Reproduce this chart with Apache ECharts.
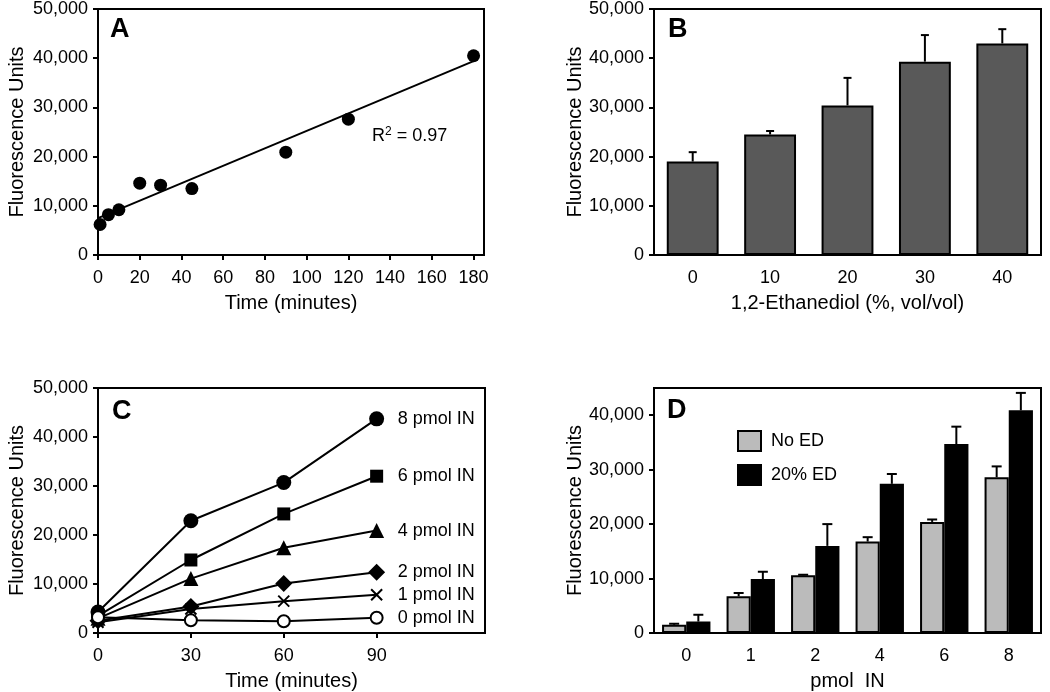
<!DOCTYPE html>
<html>
<head>
<meta charset="utf-8">
<script src="https://cdn.jsdelivr.net/npm/echarts@6/dist/echarts.min.js"></script>
<style>
html,body{margin:0;padding:0;background:#fff;}
#main{width:1050px;height:692px;}
</style>
</head>
<body>
<div id="main"></div>
<script>
// ---- Panel A data ----
const timeA = [1, 5, 10, 20, 30, 45, 90, 120, 180];
const fluorA = [6200, 8200, 9200, 14600, 14200, 13500, 20900, 27600, 40500];
const fitX = [0, 180];
const fitY = [7500, 39400];
const ticksA = [0, 20, 40, 60, 80, 100, 120, 140, 160, 180];

// ---- Panel B data ----
const edCats = ['0', '10', '20', '30', '40'];
const edMeans = [19000, 24500, 30400, 39300, 43000];
const edSD = [1900, 700, 5600, 5400, 2900];

// ---- Panel C data ----
const timeC = [0, 30, 60, 90];
const in8 = [4300, 22900, 30700, 43700];
const in6 = [3500, 14900, 24300, 32000];
const in4 = [3000, 11100, 17400, 20900];
const in2 = [2500, 5400, 10100, 12400];
const in1 = [2200, 4900, 6500, 7800];
const in0 = [3200, 2600, 2400, 3100];

// ---- Panel D data ----
const pmolCats = ['0', '1', '2', '4', '6', '8'];
const noED = [1500, 6750, 10600, 16800, 20400, 28600];
const noEDsd = [200, 600, 100, 800, 450, 2000];
const ed20 = [2100, 9900, 16000, 27400, 34700, 40900];
const ed20sd = [1250, 1350, 4000, 1800, 3200, 3200];

const yTicks50 = [0, 10000, 20000, 30000, 40000, 50000];
const yTicks45 = [0, 10000, 20000, 30000, 40000];

const FONT = 'Liberation Sans';
const fmt = v => Number(v).toLocaleString('en-US');

function yAxis(gi, max, ticks, gap) {
  return {
    type: 'value', gridIndex: gi, min: 0, max: max, interval: 10000,
    name: 'Fluorescence Units', nameLocation: 'middle', nameGap: gap,
    nameTextStyle: { fontFamily: FONT, fontSize: 20, color: '#000' },
    axisLine: { show: true, lineStyle: { color: '#000', width: 2 } },
    axisTick: { show: true, inside: false, length: 5, lineStyle: { color: '#000', width: 2 }, customValues: ticks },
    axisLabel: { fontFamily: FONT, fontSize: 18, color: '#000', margin: 10, formatter: fmt, customValues: ticks },
    splitLine: { show: false }
  };
}

function errRender(offsetFrac, cap) {
  return function (params, api) {
    const x = api.value(0), v = api.value(1), top = api.value(2);
    const p0 = api.coord([x, v]);
    const p1 = api.coord([x, top]);
    const w = api.size([1, 0])[0];
    const cx = p0[0] + offsetFrac * w;
    return {
      type: 'group',
      children: [
        { type: 'line', shape: { x1: cx, y1: p0[1], x2: cx, y2: p1[1] }, style: { stroke: '#000', lineWidth: 2 } },
        { type: 'line', shape: { x1: cx - cap, y1: p1[1], x2: cx + cap, y2: p1[1] }, style: { stroke: '#000', lineWidth: 2 } }
      ]
    };
  };
}

const gridBase = { show: true, borderColor: '#000', borderWidth: 2, containLabel: false };

const cSeriesDefs = [
  { name: '8 pmol IN', data: in8, symbol: 'circle', size: 15, fill: '#000' },
  { name: '6 pmol IN', data: in6, symbol: 'rect', size: 13, fill: '#000' },
  { name: '4 pmol IN', data: in4, symbol: 'triangle', size: 15, fill: '#000' },
  { name: '2 pmol IN', data: in2, symbol: 'diamond', size: 17, fill: '#000' },
  { name: '1 pmol IN', data: in1, symbol: 'path://M0,0 L10,10 M10,0 L0,10', size: 11, fill: 'none' },
  { name: '0 pmol IN', data: in0, symbol: 'circle', size: 12, fill: '#fff' }
];

const cSeries = cSeriesDefs.map(d => ({
  type: 'line', name: d.name, xAxisIndex: 2, yAxisIndex: 2,
  data: timeC.map((t, i) => [t, d.data[i]]),
  symbol: d.symbol, symbolSize: d.size, showAllSymbol: true,
  lineStyle: { color: '#000', width: 2 },
  itemStyle: { color: d.fill, borderColor: '#000', borderWidth: d.fill === '#000' ? 0 : 2, opacity: 1 },
  emphasis: { disabled: true },
  endLabel: { show: true, formatter: '{a}', distance: 21, fontFamily: FONT, fontSize: 18, color: '#000' },
  z: 3
}));

const option = {
  animation: false,
  backgroundColor: '#fff',
  textStyle: { fontFamily: FONT },
  title: [
    { text: 'A', left: 110, top: 16, padding: 0, textStyle: { fontFamily: FONT, fontSize: 27, fontWeight: 'bold', color: '#000' } },
    { text: 'B', left: 668, top: 16, padding: 0, textStyle: { fontFamily: FONT, fontSize: 27, fontWeight: 'bold', color: '#000' } },
    { text: 'C', left: 112, top: 398, padding: 0, textStyle: { fontFamily: FONT, fontSize: 27, fontWeight: 'bold', color: '#000' } },
    { text: 'D', left: 667, top: 397, padding: 0, textStyle: { fontFamily: FONT, fontSize: 27, fontWeight: 'bold', color: '#000' } },
    { text: '{a|R}{b|2}{a| = 0.97}', left: 372, top: 126, padding: 0,
      textStyle: { fontWeight: 'normal', rich: {
        a: { fontFamily: FONT, fontSize: 18, fontWeight: 'normal', color: '#000' },
        b: { fontFamily: FONT, fontSize: 12, fontWeight: 'normal', color: '#000', padding: [0, 0, 9, 0] } } } }
  ],
  legend: {
    data: ['No ED', '20% ED'], orient: 'vertical', left: 737, top: 430, padding: 0,
    itemWidth: 23, itemHeight: 20, itemGap: 12, icon: 'rect',
    textStyle: { fontFamily: FONT, fontSize: 18, color: '#000', padding: [0, 0, 0, 5] }
  },
  grid: [
    Object.assign({ left: 98, top: 9, width: 386, height: 246 }, gridBase),
    Object.assign({ left: 654, top: 9, width: 387, height: 246 }, gridBase),
    Object.assign({ left: 98, top: 388, width: 387, height: 245 }, gridBase),
    Object.assign({ left: 654, top: 388, width: 387, height: 247 }, gridBase)
  ],
  xAxis: [
    {
      type: 'value', gridIndex: 0, min: 0, max: 185, interval: 20,
      name: 'Time (minutes)', nameLocation: 'middle', nameGap: 38,
      nameTextStyle: { fontFamily: FONT, fontSize: 20, color: '#000' },
      axisLine: { lineStyle: { color: '#000', width: 2 } },
      axisTick: { length: 5, lineStyle: { color: '#000', width: 2 }, customValues: ticksA },
      axisLabel: { fontFamily: FONT, fontSize: 18, color: '#000', margin: 14, customValues: ticksA },
      splitLine: { show: false }
    },
    {
      type: 'category', gridIndex: 1, data: edCats, boundaryGap: true,
      name: '1,2-Ethanediol (%, vol/vol)', nameLocation: 'middle', nameGap: 38,
      nameTextStyle: { fontFamily: FONT, fontSize: 20, color: '#000' },
      axisLine: { lineStyle: { color: '#000', width: 2 } },
      axisTick: { show: false },
      axisLabel: { fontFamily: FONT, fontSize: 18, color: '#000', margin: 14 }
    },
    {
      type: 'value', gridIndex: 2, min: 0, max: 125, interval: 30,
      name: 'Time (minutes)', nameLocation: 'middle', nameGap: 38,
      nameTextStyle: { fontFamily: FONT, fontSize: 20, color: '#000' },
      axisLine: { lineStyle: { color: '#000', width: 2 } },
      axisTick: { length: 5, lineStyle: { color: '#000', width: 2 }, customValues: timeC },
      axisLabel: { fontFamily: FONT, fontSize: 18, color: '#000', margin: 14, customValues: timeC },
      splitLine: { show: false }
    },
    {
      type: 'category', gridIndex: 3, data: pmolCats, boundaryGap: true,
      name: 'pmol  IN', nameLocation: 'middle', nameGap: 38,
      nameTextStyle: { fontFamily: FONT, fontSize: 20, color: '#000' },
      axisLine: { lineStyle: { color: '#000', width: 2 } },
      axisTick: { show: false },
      axisLabel: { fontFamily: FONT, fontSize: 18, color: '#000', margin: 14 }
    }
  ],
  yAxis: [
    yAxis(0, 50000, yTicks50, 71),
    yAxis(1, 50000, yTicks50, 67),
    yAxis(2, 50000, yTicks50, 71),
    yAxis(3, 45000, yTicks45, 67)
  ],
  series: [
    // Panel A
    {
      type: 'line', xAxisIndex: 0, yAxisIndex: 0,
      data: fitX.map((x, i) => [x, fitY[i]]),
      symbol: 'none', lineStyle: { color: '#000', width: 2 }, z: 2
    },
    {
      type: 'scatter', xAxisIndex: 0, yAxisIndex: 0,
      data: timeA.map((t, i) => [t, fluorA[i]]),
      symbol: 'circle', symbolSize: 13, itemStyle: { color: '#000', opacity: 1 }, z: 3
    },
    // Panel B
    {
      type: 'bar', xAxisIndex: 1, yAxisIndex: 1, data: edMeans,
      barCategoryGap: '33%',
      itemStyle: { color: '#595959', borderColor: '#000', borderWidth: 2 }
    },
    {
      type: 'custom', xAxisIndex: 1, yAxisIndex: 1, z: 5,
      data: edMeans.map((v, i) => [i, v, v + edSD[i]]),
      encode: { x: 0, y: [1, 2] },
      renderItem: errRender(0, 4)
    },
    // Panel C
    ...cSeries,
    // Panel D
    {
      type: 'bar', name: 'No ED', xAxisIndex: 3, yAxisIndex: 3, data: noED,
      barCategoryGap: '25%', barGap: '0%',
      itemStyle: { color: '#bbbbbb', borderColor: '#000', borderWidth: 2 }
    },
    {
      type: 'bar', name: '20% ED', xAxisIndex: 3, yAxisIndex: 3, data: ed20,
      barCategoryGap: '25%', barGap: '0%',
      itemStyle: { color: '#000', borderColor: '#000', borderWidth: 2 }
    },
    {
      type: 'custom', xAxisIndex: 3, yAxisIndex: 3, z: 5,
      data: noED.map((v, i) => [i, v, v + noEDsd[i]]),
      encode: { x: 0, y: [1, 2] },
      renderItem: errRender(-0.1875, 5)
    },
    {
      type: 'custom', xAxisIndex: 3, yAxisIndex: 3, z: 5,
      data: ed20.map((v, i) => [i, v, v + ed20sd[i]]),
      encode: { x: 0, y: [1, 2] },
      renderItem: errRender(0.1875, 5)
    }
  ]
};

const chart = echarts.init(document.getElementById('main'), null, { renderer: 'canvas' });
chart.setOption(option);
</script>
</body>
</html>
